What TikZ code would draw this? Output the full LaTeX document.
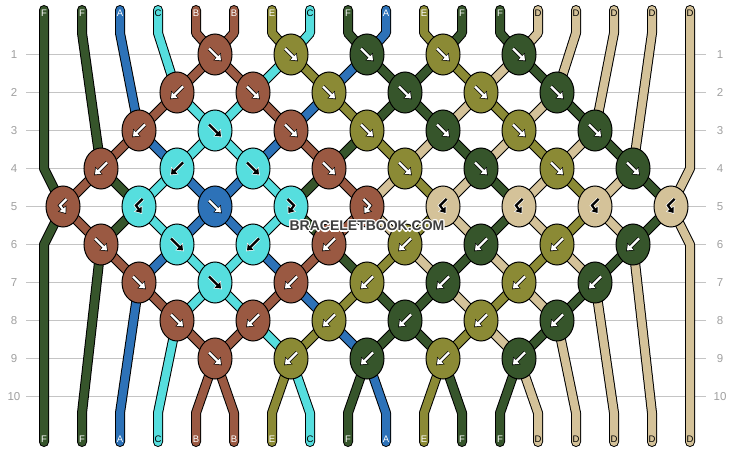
\documentclass[tikz,border=0pt]{standalone}
\usepackage{fontspec}
\setmainfont{Liberation Sans}
\usetikzlibrary{arrows.meta,shapes.geometric}
\definecolor{cF}{HTML}{36552B}
\definecolor{cA}{HTML}{2D72B8}
\definecolor{cC}{HTML}{56DEDE}
\definecolor{cB}{HTML}{9A5942}
\definecolor{cE}{HTML}{8B8A35}
\definecolor{cD}{HTML}{D4C299}
\definecolor{rowgray}{HTML}{C4C4C4}
\definecolor{numgray}{HTML}{A0A0A0}
\definecolor{wmark}{HTML}{3E3E3E}
\colorlet{gW}{white}\colorlet{oW}{black}
\colorlet{gK}{black}\colorlet{oK}{white}
\pgfdeclarelayer{bg}
\pgfdeclarelayer{strandlayer}
\pgfsetlayers{bg,strandlayer,main}
\def\gpf{(-6,-6) -- (6,6)}
\def\gpb{(6,-6) -- (-6,6)}
\def\gpfb{(-3.5,-7.5) -- (3,-1) -- (-2.5,6.5)}
\def\gpbf{(3.5,-7.5) -- (-3,-1) -- (2.5,6.5)}
\newcommand\drawglyph[4]{%
  \expandafter\let\expandafter\mygp\csname gp#1\endcsname
  \draw[glyphout=#4, shift={(#2.center)}] \mygp;
  \draw[glyphin=#3, shift={(#2.center)}] \mygp;
}
\tikzset{
 strand/.style={draw=#1, line width=8pt, line cap=round, line join=round,
   preaction={draw=black, line width=10pt, line cap=round, line join=round}},
 knot/.style={ellipse, draw=black, line width=1pt, minimum width=34pt, minimum height=41pt, inner sep=0pt},
 rowline/.style={draw=rowgray, line width=1pt},
 rownum/.style={text=numgray, font=\fontsize{11.5}{12}\selectfont, inner sep=0pt},
 lab/.style={font=\fontsize{9.5}{10}\selectfont, inner sep=0pt, text=#1},
 glyphin/.style={draw=#1, line width=2.2pt, line join=miter, -{Triangle[length=5pt,width=7.5pt]}},
 glyphout/.style={draw=#1, line width=3.8pt, line join=miter, shorten >=-1.2pt, -{Triangle[length=6.8pt,width=10pt]}},
 wm/.style={font=\bfseries\fontsize{14}{14}\selectfont, inner sep=0pt},
}
\begin{document}
\begin{tikzpicture}[x=1pt,y=-1pt]
\useasboundingbox (0,0) rectangle (734,452);
\begin{pgfonlayer}{bg}
\fill[white] (0,0) rectangle (734,452);
\foreach \r in {1,...,10}{
  \pgfmathsetmacro\yy{54.5+38*(\r-1)}
  \draw[rowline] (26,\yy) -- (706,\yy);
  \node[rownum] (ln\r) at (14,\yy) {\r};
  \node[rownum] (rn\r) at (720,\yy) {\r};
}
\end{pgfonlayer}
% strand end coordinates
\foreach \i in {1,...,18}{
  \coordinate (t\i) at ({6+38*\i},10);
  \coordinate (u\i) at ({6+38*\i},33);
  \coordinate (v\i) at ({6+38*\i},413);
  \coordinate (w\i) at ({6+38*\i},442);
}
\coordinate (e4-1) at (44,168.5);
\coordinate (e6-1) at (44,244.5);
\coordinate (e4-18) at (690,168.5);
\coordinate (e6-18) at (690,244.5);
% knots
\foreach \r/\i/\c/\t/\g in {
 1/5/B/f/W, 1/7/E/f/W, 1/9/F/f/W, 1/11/E/f/W, 1/13/F/f/W,
 2/4/B/b/W, 2/6/B/f/W, 2/8/E/f/W, 2/10/F/f/W, 2/12/E/f/W, 2/14/F/f/W,
 3/3/B/b/W, 3/5/C/f/K, 3/7/B/f/W, 3/9/E/f/W, 3/11/F/f/W, 3/13/E/f/W, 3/15/F/f/W,
 4/2/B/b/W, 4/4/C/b/K, 4/6/C/f/K, 4/8/B/f/W, 4/10/E/f/W, 4/12/F/f/W, 4/14/E/f/W, 4/16/F/f/W,
 5/1/B/bf/W, 5/3/C/bf/K, 5/5/A/f/W, 5/7/C/fb/K, 5/9/B/fb/W, 5/11/D/bf/K, 5/13/D/bf/K, 5/15/D/bf/K, 5/17/D/bf/K,
 6/2/B/f/W, 6/4/C/f/K, 6/6/C/b/K, 6/8/B/b/W, 6/10/E/b/W, 6/12/F/b/W, 6/14/E/b/W, 6/16/F/b/W,
 7/3/B/f/W, 7/5/C/f/K, 7/7/B/b/W, 7/9/E/b/W, 7/11/F/b/W, 7/13/E/b/W, 7/15/F/b/W,
 8/4/B/f/W, 8/6/B/b/W, 8/8/E/b/W, 8/10/F/b/W, 8/12/E/b/W, 8/14/F/b/W,
 9/5/B/f/W, 9/7/E/b/W, 9/9/F/b/W, 9/11/E/b/W, 9/13/F/b/W}{
  \node[knot, fill=c\c] (k\r-\i) at ({25+38*\i},{54.5+38*(\r-1)}) {};
  \drawglyph{\t}{k\r-\i}{g\g}{o\g}
}
% strands
\begin{pgfonlayer}{strandlayer}
\draw[strand=cF] (t1) -- (e4-1) -- (k5-1.center) -- (e6-1) -- (w1);
\draw[strand=cF] (t2) -- (u2) -- (k4-2.center) -- (k5-3.center) -- (k6-2.center) -- (v2) -- (w2);
\draw[strand=cA] (t3) -- (u3) -- (k3-3.center) -- (k4-4.center) -- (k5-5.center) -- (k6-6.center) -- (k7-7.center) -- (k8-8.center) -- (k9-9.center) -- (v10) -- (w10);
\draw[strand=cC] (t4) -- (u4) -- (k2-4.center) -- (k3-5.center) -- (k4-6.center) -- (k5-7.center) -- (k6-6.center) -- (k7-5.center) -- (k8-4.center) -- (v4) -- (w4);
\draw[strand=cB] (t5) -- (u5) -- (k1-5.center) -- (k2-6.center) -- (k3-7.center) -- (k4-8.center) -- (k5-9.center) -- (k6-8.center) -- (k7-7.center) -- (k8-6.center) -- (k9-5.center) -- (v5) -- (w5);
\draw[strand=cB] (t6) -- (u6) -- (k1-5.center) -- (k2-4.center) -- (k3-3.center) -- (k4-2.center) -- (k5-1.center) -- (k6-2.center) -- (k7-3.center) -- (k8-4.center) -- (k9-5.center) -- (v6) -- (w6);
\draw[strand=cE] (t7) -- (u7) -- (k1-7.center) -- (k2-8.center) -- (k3-9.center) -- (k4-10.center) -- (k5-11.center) -- (k6-10.center) -- (k7-9.center) -- (k8-8.center) -- (k9-7.center) -- (v7) -- (w7);
\draw[strand=cC] (t8) -- (u8) -- (k1-7.center) -- (k2-6.center) -- (k3-5.center) -- (k4-4.center) -- (k5-3.center) -- (k6-4.center) -- (k7-5.center) -- (k8-6.center) -- (k9-7.center) -- (v8) -- (w8);
\draw[strand=cF] (t9) -- (u9) -- (k1-9.center) -- (k2-10.center) -- (k3-11.center) -- (k4-12.center) -- (k5-13.center) -- (k6-12.center) -- (k7-11.center) -- (k8-10.center) -- (k9-9.center) -- (v9) -- (w9);
\draw[strand=cA] (t10) -- (u10) -- (k1-9.center) -- (k2-8.center) -- (k3-7.center) -- (k4-6.center) -- (k5-5.center) -- (k6-4.center) -- (k7-3.center) -- (v3) -- (w3);
\draw[strand=cE] (t11) -- (u11) -- (k1-11.center) -- (k2-12.center) -- (k3-13.center) -- (k4-14.center) -- (k5-15.center) -- (k6-14.center) -- (k7-13.center) -- (k8-12.center) -- (k9-11.center) -- (v11) -- (w11);
\draw[strand=cF] (t12) -- (u12) -- (k1-11.center) -- (k2-10.center) -- (k3-9.center) -- (k4-8.center) -- (k5-7.center) -- (k6-8.center) -- (k7-9.center) -- (k8-10.center) -- (k9-11.center) -- (v12) -- (w12);
\draw[strand=cF] (t13) -- (u13) -- (k1-13.center) -- (k2-14.center) -- (k3-15.center) -- (k4-16.center) -- (k5-17.center) -- (k6-16.center) -- (k7-15.center) -- (k8-14.center) -- (k9-13.center) -- (v13) -- (w13);
\draw[strand=cD] (t14) -- (u14) -- (k1-13.center) -- (k2-12.center) -- (k3-11.center) -- (k4-10.center) -- (k5-9.center) -- (k6-10.center) -- (k7-11.center) -- (k8-12.center) -- (k9-13.center) -- (v14) -- (w14);
\draw[strand=cD] (t15) -- (u15) -- (k2-14.center) -- (k3-13.center) -- (k4-12.center) -- (k5-11.center) -- (k6-12.center) -- (k7-13.center) -- (k8-14.center) -- (v15) -- (w15);
\draw[strand=cD] (t16) -- (u16) -- (k3-15.center) -- (k4-14.center) -- (k5-13.center) -- (k6-14.center) -- (k7-15.center) -- (v16) -- (w16);
\draw[strand=cD] (t17) -- (u17) -- (k4-16.center) -- (k5-15.center) -- (k6-16.center) -- (v17) -- (w17);
\draw[strand=cD] (t18) -- (e4-18) -- (k5-17.center) -- (e6-18) -- (w18);
\end{pgfonlayer}
% end labels
\foreach \i/\l/\tc in {1/F/white,2/F/white,3/A/white,4/C/black,5/B/white,6/B/white,7/E/white,8/C/black,9/F/white,10/A/white,11/E/white,12/F/white,13/F/white,14/D/black,15/D/black,16/D/black,17/D/black,18/D/black}{
  \node[lab=\tc] (lt\i) at ({6+38*\i},13) {\l};
}
\foreach \i/\l/\tc in {1/F/white,2/F/white,3/A/white,4/C/black,5/B/white,6/B/white,7/E/white,8/C/black,9/F/white,10/A/white,11/E/white,12/F/white,13/F/white,14/D/black,15/D/black,16/D/black,17/D/black,18/D/black}{
  \node[lab=\tc] (lb\i) at ({6+38*\i},439.5) {\l};
}
% watermark
\foreach \dx/\dy [count=\n] in {-1.2/0,1.2/0,0/-1.2,0/1.2,-0.9/-0.9,0.9/0.9,-0.9/0.9,0.9/-0.9}{
  \node[wm, text=white] (wmh\n) at (367+\dx,226+\dy) {BRACELETBOOK.COM};
}
\node[wm, text=wmark] (wm) at (367,226) {BRACELETBOOK.COM};
\end{tikzpicture}
\end{document}
